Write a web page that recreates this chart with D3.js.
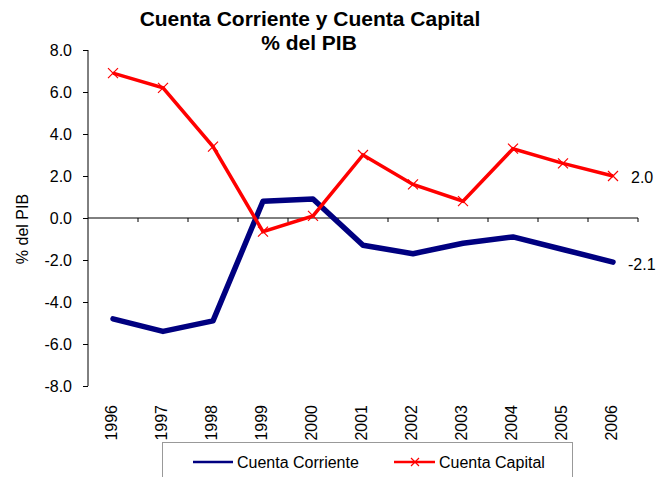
<!DOCTYPE html>
<html><head><meta charset="utf-8">
<script src="https://cdn.jsdelivr.net/npm/d3@7"></script>
<style>body{margin:0;background:#fff;} text{font-family:"Liberation Sans",Arial,sans-serif;}</style>
</head><body><svg id="c" width="664" height="477"></svg>
<script>
const years = ["1996","1997","1998","1999","2000","2001","2002","2003","2004","2005","2006"];
const cuentaCorriente = [-4.8,-5.4,-4.9,0.8,0.9,-1.3,-1.7,-1.2,-0.9,-1.5,-2.1];
const cuentaCapital = [6.9,6.2,3.4,-0.65,0.1,3.0,1.6,0.8,3.3,2.6,2.0];
const yTicks = [8,6,4,2,0,-2,-4,-6,-8];
const seriesNames = ["Cuenta Corriente","Cuenta Capital"];

const fmt = d3.formatLocale({decimal:".",thousands:",",grouping:[3],currency:["",""],minus:"-"}).format(".1f");

const svg = d3.select("#c");
const x = d3.scaleBand().domain(years).range([88,638]);
const y = d3.scaleLinear().domain([-8,8]).range([386,50]);
const cx = d => x(d) + x.bandwidth()/2;

// title
svg.append("text").attr("x",310).attr("y",26).attr("text-anchor","middle").attr("font-weight","bold").attr("font-size",21).text("Cuenta Corriente y Cuenta Capital");
svg.append("text").attr("x",309).attr("y",50).attr("text-anchor","middle").attr("font-weight","bold").attr("font-size",21).text("% del PIB");

// y axis
const ya = svg.append("g").attr("transform","translate(88,0)")
  .call(d3.axisLeft(y).tickValues(yTicks).tickSize(5).tickPadding(11).tickFormat(fmt));
ya.select(".domain").attr("stroke","#000").attr("d","M0,"+y(8)+"V"+y(-8));
ya.selectAll("text").attr("font-size",16).attr("fill","#000").style("font-family","Liberation Sans, Arial, sans-serif");
ya.selectAll("line").attr("stroke","#000");

svg.append("text").attr("transform","translate(28,229) rotate(-90)").attr("text-anchor","middle").attr("font-size",16).text("% del PIB");

// x axis at zero
const xa = svg.append("g").attr("transform","translate(0,"+y(0)+")");
xa.append("line").attr("x1",88).attr("x2",638).attr("stroke","#000");
years.forEach(yr=>{
  xa.append("line").attr("x1",x(yr)+x.bandwidth()).attr("x2",x(yr)+x.bandwidth()).attr("y1",0).attr("y2",4).attr("stroke","#000");
});
// x labels
years.forEach(yr=>{
  svg.append("text").attr("transform","translate("+(cx(yr)+4)+",405) rotate(-90)").attr("text-anchor","end").attr("font-size",16).text(yr);
});

// lines
const line = d3.line().x((d,i)=>cx(years[i])).y(d=>y(d));
svg.append("path").datum(cuentaCorriente).attr("d",line).attr("fill","none").attr("stroke","#000080").attr("stroke-width",5.5).attr("stroke-linejoin","round").attr("stroke-linecap","round");
svg.append("path").datum(cuentaCapital).attr("d",line).attr("fill","none").attr("stroke","#FF0000").attr("stroke-width",3.5).attr("stroke-linejoin","miter");
const s=5;
svg.append("g").selectAll("path").data(cuentaCapital).join("path")
  .attr("d",(d,i)=>{const px=cx(years[i]),py=y(d);return `M${px-s},${py-s}L${px+s},${py+s}M${px-s},${py+s}L${px+s},${py-s}`;})
  .attr("stroke","#FF0000").attr("stroke-width",1.2).attr("fill","none");

// end labels
svg.append("text").attr("x",631).attr("y",183).attr("font-size",16).text(fmt(cuentaCapital[10]));
svg.append("text").attr("x",628).attr("y",270).attr("font-size",16).text(fmt(cuentaCorriente[10]));

// legend
svg.append("rect").attr("x",162.5).attr("y",442.5).attr("width",410).attr("height",45).attr("fill","none").attr("stroke","#999");
svg.append("line").attr("x1",193).attr("x2",233).attr("y1",462).attr("y2",462).attr("stroke","#000080").attr("stroke-width",2.5);
svg.append("text").attr("x",237).attr("y",468).attr("font-size",16).text(seriesNames[0]);
svg.append("line").attr("x1",394).attr("x2",435).attr("y1",462).attr("y2",462).attr("stroke","#FF0000").attr("stroke-width",2.5);
svg.append("path").attr("d",`M${415-4},${462-4}L${415+4},${462+4}M${415-4},${462+4}L${415+4},${462-4}`).attr("stroke","#FF0000").attr("stroke-width",1.2);
svg.append("text").attr("x",439).attr("y",468).attr("font-size",16).text(seriesNames[1]);
</script></body></html>
